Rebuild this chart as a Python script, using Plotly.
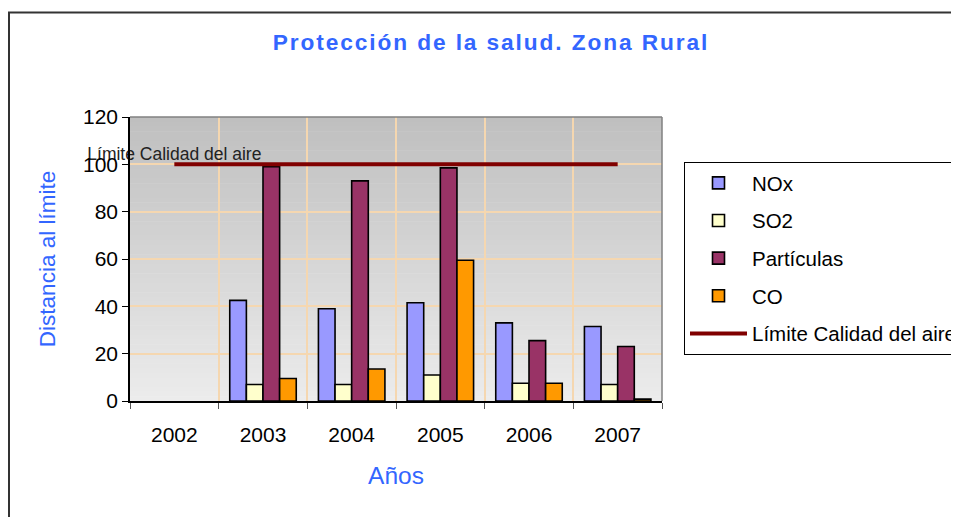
import plotly.graph_objects as go

years = ["2002", "2003", "2004", "2005", "2006", "2007"]
nox = [None, 42.5, 39, 41.5, 33, 31.5]
so2 = [None, 7, 7, 11, 7.5, 7]
particulas = [None, 99, 93, 98.5, 25.5, 23]
co = [None, 9.5, 13.5, 59.5, 7.5, 0.8]
limite = [100, 100, 100, 100, 100, 100]
limite_label = "Límite Calidad del aire"

series_names = ["NOx", "SO2", "Partículas", "CO"]
series_vals = [nox, so2, particulas, co]
series_colors = ["#9999ff", "#ffffcc", "#993366", "#ff9900"]

OFF = 8  # page body margin
W, H = 951, 509
L, R, T, B = 122, 297, 109, 116
pw, ph = W - L - R, H - T - B

def px_x(p):  # page pixel -> paper x
    return (p - OFF - L) / pw

def px_y(p):  # page pixel -> paper y
    return (H - B - (p - OFF)) / ph

# background gradient strips (decoration)
shapes = []
n = 60
c_top, c_bot = (191, 191, 191), (236, 236, 236)
for i in range(n):
    f = (i + 0.5) / n
    c = tuple(round(c_top[k] + (c_bot[k] - c_top[k]) * f) for k in range(3))
    shapes.append(dict(type="rect", xref="paper", yref="paper", layer="below",
                       x0=0, x1=1, y0=1 - (i + 1) / n - 0.002, y1=1 - i / n,
                       fillcolor="rgb(%d,%d,%d)" % c, line=dict(width=0)))
shapes += [
    dict(type="line", xref="paper", yref="paper", x0=0, x1=1, y0=1, y1=1,
         line=dict(color="#808080", width=1.5)),
    dict(type="line", xref="paper", yref="paper", x0=1, x1=1, y0=0, y1=1,
         line=dict(color="#808080", width=1.5)),
    dict(type="rect", xref="paper", yref="paper",
         x0=px_x(9), x1=px_x(975), y0=px_y(12.5), y1=px_y(540),
         line=dict(color="#333333", width=2), fillcolor="rgba(0,0,0,0)"),
]

fig = go.Figure()
for name, vals, col in zip(series_names, series_vals, series_colors):
    fig.add_trace(go.Bar(
        x=years, y=vals, name=name, legendgroup=name,
        marker=dict(color=col, line=dict(color="#000000", width=1.6)),
    ))

fig.add_trace(go.Scatter(
    x=years, y=limite, name=limite_label, legendgroup="lim",
    mode="lines", line=dict(color="#800000", width=4),
))

# data label of the first point of the limit line
fig.add_trace(go.Scatter(
    x=years[:1], y=limite[:1], mode="text", text=[limite_label],
    textposition="top center", showlegend=False, hoverinfo="skip",
    cliponaxis=False,
    textfont=dict(family="Liberation Sans, Arial", size=17.5, color="#222222"),
))

title_text = "\u200a".join("Protección de la salud. Zona Rural")

fig.update_layout(
    width=W, height=H,
    margin=dict(l=L, r=R, t=T, b=B, autoexpand=False),
    paper_bgcolor="white",
    plot_bgcolor="rgba(0,0,0,0)",
    barmode="group", bargap=0.25, bargroupgap=0,
    font=dict(family="Liberation Sans, Arial", size=21, color="#000000"),
    title=dict(
        text="<b>" + title_text + "</b>",
        x=(490 - OFF) / W, xanchor="center", xref="container",
        y=1 - (42.5 - OFF) / H, yanchor="middle", yref="container",
        font=dict(family="Liberation Sans, Arial", size=22.7, color="#3366ff"),
    ),
    showlegend=True,
    legend=dict(
        x=px_x(684), y=px_y(162), xanchor="left", yanchor="top",
        bgcolor="white", bordercolor="#000000", borderwidth=1,
        font=dict(family="Liberation Sans, Arial", size=20.5, color="#000000"),
        traceorder="grouped", tracegroupgap=8, itemwidth=57,
    ),
    xaxis=dict(
        type="category", tickson="boundaries",
        showgrid=True, gridcolor="#f5d7b0", gridwidth=1.5,
        showline=True, linecolor="#000000", linewidth=1.5,
        ticks="outside", ticklen=6, tickcolor="#555555",
        tickfont=dict(size=21), tickangle=0, ticklabelstandoff=14,
        title=dict(text="Años", font=dict(size=24.5, color="#3366ff"), standoff=22),
    ),
    yaxis=dict(
        range=[0, 120], dtick=20,
        showgrid=True, gridcolor="#f5d7b0", gridwidth=1.5,
        showline=True, linecolor="#000000", linewidth=1.5,
        ticks="outside", ticklen=6, tickcolor="#000000",
        tickfont=dict(size=21), zeroline=False,
        title=dict(text="Distancia al límite", font=dict(size=22.5, color="#3366ff"), standoff=21),
    ),
    shapes=shapes,
)

fig.write_html("out.html")
